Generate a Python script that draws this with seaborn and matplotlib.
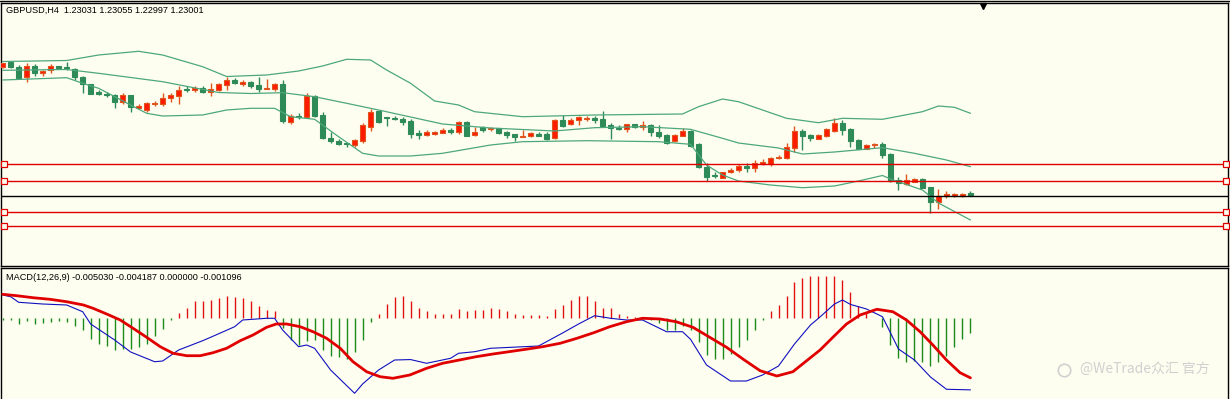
import matplotlib
matplotlib.use("Agg")
import matplotlib.pyplot as plt
from matplotlib.lines import Line2D
import numpy as np
import pandas as pd
import seaborn as sns

# ---- GBPUSD H4 candles ----
opens = [
    1.24293, 1.24337, 1.24293, 1.24187, 1.24303, 1.2423, 1.24257, 1.24297, 1.2429, 1.2427,
    1.24187, 1.24117, 1.24037, 1.2402, 1.2401, 1.23943, 1.2401, 1.23883, 1.2386, 1.2392,
    1.2392, 1.23977, 1.24003, 1.24073, 1.2406, 1.24083, 1.24043, 1.24063, 1.2411, 1.24163,
    1.24117, 1.24137, 1.24113, 1.24067, 1.24073, 1.2412, 1.2374, 1.238, 1.23787, 1.24003,
    1.2381, 1.2358, 1.23553, 1.23533, 1.23513, 1.2355, 1.23693, 1.2385, 1.23787, 1.23783,
    1.2377, 1.23753, 1.23633, 1.23607, 1.2362, 1.23633, 1.2366, 1.23643, 1.23743, 1.23607,
    1.23687, 1.23667, 1.23677, 1.23643, 1.23617, 1.2359, 1.23603, 1.23623, 1.23617, 1.23577,
    1.23757, 1.23717, 1.23757, 1.2377, 1.2378, 1.2377, 1.2371, 1.2368, 1.2367, 1.23717,
    1.2369, 1.23707, 1.23637, 1.2361, 1.23553, 1.23603, 1.2365, 1.23517, 1.23293, 1.2321,
    1.23183, 1.23237, 1.2326, 1.233, 1.23277, 1.23317, 1.2332, 1.23377, 1.23377, 1.23483,
    1.23653, 1.2361, 1.23573, 1.23603, 1.23653, 1.23733, 1.23673, 1.23563, 1.23473, 1.23507,
    1.23517, 1.2342, 1.2316, 1.23123, 1.23143, 1.2317, 1.2309, 1.22943, 1.22997, 1.23003,
    1.23003, 1.23031,
]
highs = [
    1.24335, 1.24345, 1.2431, 1.24327, 1.24317, 1.24263, 1.24317, 1.24305, 1.24343, 1.24283,
    1.24203, 1.24125, 1.2406, 1.24037, 1.24017, 1.24027, 1.24015, 1.23917, 1.23943, 1.23947,
    1.24027, 1.24027, 1.241, 1.24103, 1.241, 1.24097, 1.24127, 1.24133, 1.24187, 1.24183,
    1.24157, 1.2415, 1.24193, 1.24167, 1.24133, 1.2416, 1.23817, 1.23827, 1.24027, 1.2401,
    1.23837, 1.23637, 1.23567, 1.23533, 1.23573, 1.23727, 1.23867, 1.2386, 1.23787, 1.23803,
    1.23793, 1.23767, 1.2366, 1.2366, 1.23653, 1.23677, 1.23683, 1.23747, 1.23753, 1.23687,
    1.23703, 1.23693, 1.23683, 1.23653, 1.2362, 1.2366, 1.23637, 1.23637, 1.23637, 1.23767,
    1.2381, 1.23783, 1.23803, 1.23797, 1.23803, 1.2385, 1.23727, 1.2371, 1.23723, 1.23723,
    1.2375, 1.23717, 1.2371, 1.23617, 1.23617, 1.23677, 1.2366, 1.23527, 1.23327, 1.23243,
    1.23243, 1.23277, 1.23323, 1.23327, 1.2336, 1.23367, 1.23393, 1.23407, 1.23527, 1.237,
    1.23667, 1.2362, 1.2362, 1.23677, 1.23777, 1.23757, 1.2368, 1.2357, 1.23523, 1.23533,
    1.23543, 1.23427, 1.23193, 1.2322, 1.23183, 1.23183, 1.23093, 1.23067, 1.23053, 1.23033,
    1.23027, 1.23055,
]
lows = [
    1.24285, 1.2428, 1.2417, 1.24137, 1.24203, 1.24197, 1.24227, 1.24275, 1.24263, 1.24157,
    1.24027, 1.24017, 1.2401, 1.23993, 1.23877, 1.2392, 1.23843, 1.23867, 1.23843, 1.23903,
    1.23903, 1.23943, 1.2392, 1.24043, 1.24037, 1.24027, 1.24003, 1.2405, 1.2406, 1.24117,
    1.24103, 1.2408, 1.24043, 1.24067, 1.24053, 1.23727, 1.2372, 1.2377, 1.23787, 1.23793,
    1.2357, 1.23533, 1.2351, 1.23487, 1.23487, 1.23533, 1.23653, 1.23727, 1.23703, 1.2376,
    1.2371, 1.2358, 1.23573, 1.236, 1.23613, 1.23627, 1.2362, 1.2362, 1.236, 1.23603,
    1.2364, 1.23653, 1.23617, 1.23583, 1.2355, 1.2359, 1.2359, 1.23603, 1.23563, 1.2357,
    1.23693, 1.2371, 1.2371, 1.2375, 1.23727, 1.2369, 1.23567, 1.23657, 1.23643, 1.23683,
    1.23663, 1.23603, 1.23577, 1.2352, 1.23543, 1.23597, 1.2349, 1.23277, 1.2315, 1.23177,
    1.23177, 1.23227, 1.23237, 1.23237, 1.23243, 1.2331, 1.23303, 1.23367, 1.23367, 1.23437,
    1.2346, 1.23553, 1.23567, 1.23593, 1.23637, 1.2361, 1.23493, 1.23467, 1.23467, 1.23477,
    1.23377, 1.23143, 1.2306, 1.2311, 1.23137, 1.23077, 1.22827, 1.22867, 1.22977, 1.2299,
    1.2299, 1.22997,
]
closes = [
    1.24327, 1.24287, 1.24183, 1.243, 1.24227, 1.2425, 1.243, 1.24283, 1.24277, 1.24193,
    1.24117, 1.24023, 1.2402, 1.24007, 1.23937, 1.2401, 1.23893, 1.23897, 1.23927, 1.23933,
    1.23983, 1.2401, 1.24063, 1.24057, 1.2408, 1.24037, 1.24073, 1.24123, 1.24163, 1.24127,
    1.24143, 1.24103, 1.24073, 1.24077, 1.2412, 1.23753, 1.238, 1.23787, 1.24003, 1.238,
    1.23577, 1.23547, 1.2352, 1.23523, 1.2356, 1.2371, 1.23843, 1.23737, 1.23777, 1.23767,
    1.23737, 1.2362, 1.23607, 1.2364, 1.2364, 1.2366, 1.2364, 1.2374, 1.23603, 1.23643,
    1.2366, 1.23677, 1.23633, 1.2361, 1.2359, 1.23603, 1.23627, 1.23603, 1.2357, 1.2376,
    1.23703, 1.2376, 1.2379, 1.23783, 1.23763, 1.237, 1.23677, 1.23667, 1.23717, 1.2369,
    1.23707, 1.23637, 1.23597, 1.23527, 1.2361, 1.23653, 1.23503, 1.23287, 1.23193, 1.232,
    1.23237, 1.23263, 1.23303, 1.23277, 1.23327, 1.23343, 1.23383, 1.2339, 1.23493, 1.2365,
    1.23603, 1.23577, 1.2361, 1.23667, 1.23733, 1.2366, 1.23553, 1.23473, 1.2351, 1.23517,
    1.2341, 1.2315, 1.23127, 1.2316, 1.23173, 1.23083, 1.22943, 1.23, 1.23017, 1.23023,
    1.23017, 1.23001,
]

# ---- Bollinger bands (traced points) ----
bb_up_idx = [0, 8, 12, 17, 20, 25, 28, 33, 37, 40, 43, 46, 48, 51, 54, 57, 59, 65, 74, 85,
             87, 90, 92, 98, 102, 105, 110, 115, 117, 119, 121]
bb_upper = [1.24345, 1.24355, 1.2441, 1.24447, 1.2441, 1.24293, 1.24195, 1.2421, 1.2425, 1.243,
            1.24367, 1.2436, 1.2426, 1.24127, 1.2395, 1.2391, 1.23843, 1.23793, 1.2381, 1.2382,
            1.23893, 1.2397, 1.23943, 1.23777, 1.23733, 1.23777, 1.23767, 1.23843, 1.239, 1.23887,
            1.23827]
bb_mid_idx = [0, 8, 12, 20, 27, 31, 35, 39, 43, 47, 51, 55, 61, 69, 74, 80, 86, 90, 92, 97,
              100, 104, 110, 114, 118, 121]
bb_middle = [1.24257, 1.24265, 1.24227, 1.24143, 1.24035, 1.24025, 1.24033, 1.23993, 1.23927, 1.2386,
             1.2379, 1.2372, 1.2368, 1.2365, 1.23683, 1.23693, 1.23667, 1.23577, 1.2353, 1.2348,
             1.2342, 1.2344, 1.23483, 1.23427, 1.2336, 1.23293]
bb_low_idx = [0, 8, 10, 12, 16, 18, 20, 25, 28, 31, 34, 36, 39, 42, 45, 47, 51, 55, 61, 65,
              73, 82, 86, 88, 90, 92, 96, 100, 104, 107, 110, 111, 115, 117, 121]
bb_lower = [1.2416, 1.24183, 1.24127, 1.24077, 1.2391, 1.23827, 1.238, 1.2381, 1.2386, 1.23877,
            1.23877, 1.23793, 1.23767, 1.23593, 1.23427, 1.234, 1.234, 1.23427, 1.2351, 1.23543,
            1.23553, 1.23543, 1.23517, 1.2331, 1.2321, 1.2315, 1.2311, 1.23083, 1.231, 1.2315,
            1.23205, 1.2317, 1.2306, 1.2293, 1.2276]

# horizontal levels
red_levels = [1.23317, 1.2315, 1.22837, 1.2270]
bid_level = 1.23001

# ---- MACD(12,26,9) ----
macd_hist = [
    -0.00012, -0.00014, -0.0004, -0.00023, -0.0004, -0.00035, -0.00028, -0.00023, -0.00028, -0.00054,
    -0.00086, -0.00147, -0.0018, -0.00198, -0.00222, -0.00215, -0.00215, -0.00203, -0.0018, -0.00128,
    -0.00075, -0.00016, 0.00035, 0.0007, 0.00117, 0.00117, 0.00128, 0.0014, 0.00156, 0.00147,
    0.0014, 0.00117, 0.00086, 0.00058, 0.00051, -0.0007, -0.00152, -0.00191, -0.00163, -0.00152,
    -0.00222, -0.00264, -0.00273, -0.00287, -0.0024, -0.00152, -0.0003, 0.0003, 0.001, 0.00145,
    0.00156, 0.00117, 0.0007, 0.00047, 0.0003, 0.0003, 0.0003, 0.00063, 0.00047, 0.00054,
    0.00058, 0.0007, 0.00063, 0.00051, 0.0003, 0.00023, 0.00023, 0.00023, 0.00012, 0.00063,
    0.00093, 0.00128, 0.00152, 0.00156, 0.00117, 0.0007, 0.0007, 0.0003, 0.00016, 0.00005,
    -0.0001, -0.00016, -0.00035, -0.00086, -0.00082, -0.00058, -0.00086, -0.0017, -0.00257, -0.00287,
    -0.00287, -0.0025, -0.00205, -0.00152, -0.00082, -0.00012, 0.00047, 0.00093, 0.00156, 0.0025,
    0.0028, 0.00296, 0.00292, 0.00292, 0.00296, 0.00264, 0.0018, 0.00082, 0.00035, 0.00002,
    -0.00063, -0.00187, -0.0028, -0.0031, -0.00303, -0.0031, -0.00338, -0.0031, -0.00264, -0.00203,
    -0.00147, -0.00105,
]
macd_idx = [0, 1, 2, 5, 8, 10, 11, 14, 16, 19, 20, 22, 25, 26, 29, 30, 33, 34, 35, 37,
            38, 39, 41, 44, 45, 47, 49, 51, 53, 56, 57, 59, 61, 67, 70, 72, 74, 76, 78, 80,
            83, 85, 86, 88, 91, 93, 95, 97, 99, 101, 102, 104, 105, 106, 108, 110, 112, 114, 116, 118,
            121]
macd_main = [0.00161, 0.00149, 0.0011, 0.00098, 0.00091, 0.00044, -0.00042, -0.00154, -0.00238, -0.00306,
             -0.00301, -0.00224, -0.00159, -0.00135, -0.00061, -0.00014, -0.00002, -0.00002, -0.00084, -0.00201,
             -0.00189, -0.00212, -0.00364, -0.00527, -0.00462, -0.00364, -0.00294, -0.00291, -0.00317, -0.00282,
             -0.00247, -0.00236, -0.00212, -0.00196, -0.00105, -0.00042, 0.00016, -0.00002, -0.00014, -0.00014,
             -0.00096, -0.00096, -0.00149, -0.00329, -0.00441, -0.00441, -0.00399, -0.00336, -0.00182, -0.00049,
             -0.00002, 0.00098, 0.00126, 0.00095, 0.00063, 0.00009, -0.00217, -0.00294, -0.00413, -0.00499,
             -0.00503]
sig_idx = [0, 1.75, 3.8, 5.9, 8, 10.1, 11.3, 13, 14.7, 16.3,
           18, 19.7, 21.3, 23, 24.7, 26.3, 28, 29.7, 31.3, 33,
           34.2, 35.5, 37.2, 38.8, 40.5, 42.2, 43.8, 45.5, 47.2, 48.8,
           50.9, 53, 55, 57.1, 59.2, 61.3, 63.3, 65.4, 67.5, 69.7,
           71.8, 73.9, 75.9, 78, 80, 82.2, 84.2, 86.3, 88.4, 90.5,
           92.6, 94.7, 96.8, 98.8, 100.9, 102.2, 103.8, 105.5, 107.2, 109.3,
           111.3, 113, 114.7, 116.3, 118, 119.7, 121]
macd_signal = [0.00166, 0.00156, 0.00142, 0.00131, 0.00114, 0.00091, 0.00068, 0.00028, -0.00014, -0.00072,
               -0.00135, -0.00201, -0.00247, -0.00264, -0.00264, -0.00243, -0.00212, -0.00159, -0.00119, -0.00065,
               -0.00042, -0.00042, -0.00061, -0.00096, -0.00142, -0.00212, -0.00306, -0.00376, -0.00411, -0.00422,
               -0.00399, -0.00352, -0.00317, -0.00294, -0.00271, -0.00252, -0.00236, -0.00219, -0.00201, -0.00177,
               -0.00142, -0.00103, -0.00061, -0.00026, -0.00002, -0.00007, -0.00026, -0.00065, -0.00135, -0.00205,
               -0.00289, -0.00369, -0.00406, -0.00376, -0.00282, -0.00224, -0.00135, -0.00042, 0.00021, 0.00061,
               0.00044, -0.00014, -0.00096, -0.00189, -0.00294, -0.00383, -0.00419]

title_main = "GBPUSD,H4  1.23031 1.23055 1.22997 1.23001"
title_macd = "MACD(12,26,9) -0.005030 -0.004187 0.000000 -0.001096"
watermark = "@WeTrade众汇 官方"

# ---- colours ----
BG = "#FEFEF0"
UP_FILL = "#FF1A00"
UP_EDGE = "#E0541E"
DN_COL = "#2E8B57"
BAND_COL = "#4DA77C"
LEVEL_COL = "#E00000"

sns.set_style("white", rc={"axes.facecolor": BG, "figure.facecolor": BG,
                           "axes.edgecolor": "black", "axes.linewidth": 1.0})

W, H = 1230, 399
fig = plt.figure(figsize=(W / 100, H / 100), dpi=100)
ax = fig.add_axes([1 / W, 133 / H, 1227 / W, 263 / H])
ax2 = fig.add_axes([1 / W, -2 / H, 1227 / W, 133 / H])

# candles
df = pd.DataFrame({"open": opens, "high": highs, "low": lows, "close": closes})
df["bar"] = np.arange(len(df))
up = df["close"] >= df["open"]
for mask, fill, edge in [(up, UP_FILL, UP_EDGE), (~up, DN_COL, DN_COL)]:
    d = df[mask]
    ax.vlines(d["bar"], d["low"], d["high"], color=edge, lw=1.0, zorder=2)
    lo = np.minimum(d["open"], d["close"])
    hgt = (d["close"] - d["open"]).abs()
    ax.bar(d["bar"], hgt, bottom=lo, width=0.6, color=fill, edgecolor=edge,
           linewidth=0.8, zorder=3)

# bollinger bands
for xs, ys in [(bb_up_idx, bb_upper), (bb_mid_idx, bb_middle), (bb_low_idx, bb_lower)]:
    sns.lineplot(x=xs, y=ys, ax=ax, color=BAND_COL, lw=0.9, legend=False, zorder=4)

# levels
for lv in red_levels:
    ax.axhline(lv, color=LEVEL_COL, lw=1.0, zorder=5)
    ax.plot([0.0024, 0.998], [lv, lv], transform=ax.get_yaxis_transform(), ls="none",
            marker="s", ms=4, mfc=BG, mec=LEVEL_COL, mew=0.9, zorder=6, clip_on=False)
ax.axhline(bid_level, color="black", lw=1.0, zorder=5)

ax.set_xlim(-0.21, 153.2)
ax.set_ylim(1.2230, 1.2493)

# MACD panel
hist = pd.DataFrame({"bar": np.arange(len(macd_hist)), "val": macd_hist})
pos = hist["val"] >= 0
ax2.vlines(hist.loc[pos, "bar"], 0, hist.loc[pos, "val"], color="#E01010", lw=1.0, zorder=2)
ax2.vlines(hist.loc[~pos, "bar"], 0, hist.loc[~pos, "val"], color="#1A8A1A", lw=1.0, zorder=2)
sns.lineplot(x=macd_idx, y=macd_main, ax=ax2, color="#1010C0", lw=0.8, legend=False, zorder=3)
sns.lineplot(x=sig_idx, y=macd_signal, ax=ax2, color="#E00000", lw=2.0, legend=False, zorder=4,
             solid_joinstyle="round", solid_capstyle="round")
ax2.set_xlim(-0.21, 153.2)
ax2.set_ylim(-0.00581, 0.0035)

for a in (ax, ax2):
    a.set_xticks([])
    a.set_yticks([])
    a.set_xlabel("")
    a.set_ylabel("")
    for s in a.spines.values():
        s.set_color("black")
        s.set_linewidth(1.0)
ax2.spines["bottom"].set_visible(False)

fig.text(6 / W, 1 - 10 / H, title_main, fontsize=6.6, family="Liberation Sans",
         va="center", ha="left", color="black")
fig.text(6 / W, 1 - 277 / H, title_macd, fontsize=6.6, family="Liberation Sans",
         va="center", ha="left", color="black")

# window frame line and chart-shift marker
fig.add_artist(Line2D([0, 1], [1 - 0.8 / H] * 2, color="black", lw=1.0))
fig.add_artist(Line2D([983 / W], [1 - 5.5 / H], marker="v", ms=5, color="black", ls="none"))

# watermark
fig.add_artist(Line2D([1064 / W], [1 - 370 / H], marker="o", ms=9, mfc="none",
                      mec="#D0D0D0", mew=1.2, ls="none"))
fig.text(1080 / W, 1 - 369 / H, watermark, fontsize=10, color="#D0D0D0",
         family=["Noto Sans CJK SC", "DejaVu Sans"], va="center", ha="left")

fig.savefig("out.png", dpi=100, facecolor=BG)
